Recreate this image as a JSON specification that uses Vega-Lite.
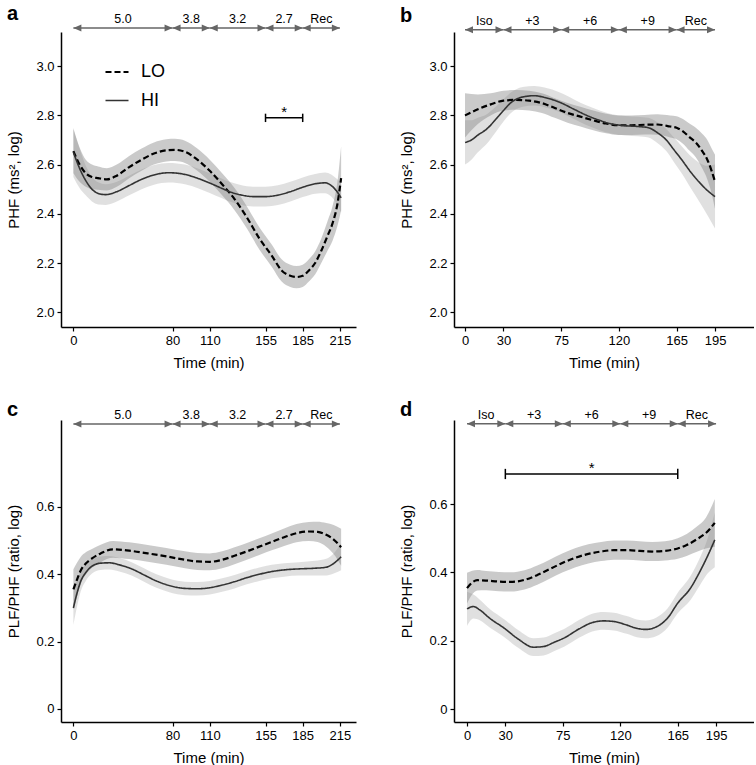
{
  "$schema": "https://vega.github.io/schema/vega-lite/v6.json",
  "padding": {"left": 6, "top": 4, "right": 0, "bottom": 0},
  "columns": 2,
  "spacing": {"row": 93, "column": 98},
  "bounds": "flush",
  "resolve": {"scale": {"x": "independent", "y": "independent", "color": "independent", "strokeDash": "independent", "strokeWidth": "independent"}},
  "datasets": {
    "segA": [
      {"start": 0, "end": 80, "mid": 40, "label": "5.0"},
      {"start": 80, "end": 110, "mid": 95, "label": "3.8"},
      {"start": 110, "end": 155, "mid": 132.5, "label": "3.2"},
      {"start": 155, "end": 185, "mid": 170, "label": "2.7"},
      {"start": 185, "end": 215, "mid": 200, "label": "Rec"}
    ],
    "segB": [
      {"start": 0, "end": 30, "mid": 15, "label": "Iso"},
      {"start": 30, "end": 75, "mid": 52.5, "label": "+3"},
      {"start": 75, "end": 120, "mid": 97.5, "label": "+6"},
      {"start": 120, "end": 165, "mid": 142.5, "label": "+9"},
      {"start": 165, "end": 195, "mid": 180, "label": "Rec"}
    ],
    "sigA": [{"start": 155, "end": 185, "mid": 170, "label": "*"}],
    "sigD": [{"start": 30, "end": 165, "mid": 97.5, "label": "*"}],
    "curvesA": [
      {"g":"LO","t":0,"v":2.655,"lo":2.565,"hi":2.745},
      {"g":"LO","t":5,"v":2.6,"lo":2.53,"hi":2.67},
      {"g":"LO","t":10,"v":2.565,"lo":2.51,"hi":2.62},
      {"g":"LO","t":15,"v":2.55,"lo":2.5,"hi":2.6},
      {"g":"LO","t":20,"v":2.545,"lo":2.498,"hi":2.592},
      {"g":"LO","t":27,"v":2.54,"lo":2.495,"hi":2.585},
      {"g":"LO","t":35,"v":2.555,"lo":2.51,"hi":2.6},
      {"g":"LO","t":45,"v":2.59,"lo":2.545,"hi":2.635},
      {"g":"LO","t":55,"v":2.62,"lo":2.575,"hi":2.665},
      {"g":"LO","t":65,"v":2.645,"lo":2.6,"hi":2.69},
      {"g":"LO","t":75,"v":2.658,"lo":2.613,"hi":2.703},
      {"g":"LO","t":82,"v":2.66,"lo":2.615,"hi":2.705},
      {"g":"LO","t":90,"v":2.652,"lo":2.607,"hi":2.697},
      {"g":"LO","t":100,"v":2.62,"lo":2.575,"hi":2.665},
      {"g":"LO","t":110,"v":2.575,"lo":2.53,"hi":2.62},
      {"g":"LO","t":120,"v":2.52,"lo":2.475,"hi":2.565},
      {"g":"LO","t":130,"v":2.46,"lo":2.415,"hi":2.505},
      {"g":"LO","t":140,"v":2.385,"lo":2.34,"hi":2.43},
      {"g":"LO","t":150,"v":2.3,"lo":2.255,"hi":2.345},
      {"g":"LO","t":160,"v":2.23,"lo":2.185,"hi":2.275},
      {"g":"LO","t":168,"v":2.17,"lo":2.125,"hi":2.215},
      {"g":"LO","t":175,"v":2.148,"lo":2.103,"hi":2.193},
      {"g":"LO","t":180,"v":2.143,"lo":2.098,"hi":2.188},
      {"g":"LO","t":185,"v":2.148,"lo":2.103,"hi":2.193},
      {"g":"LO","t":190,"v":2.17,"lo":2.125,"hi":2.215},
      {"g":"LO","t":195,"v":2.2,"lo":2.153,"hi":2.247},
      {"g":"LO","t":200,"v":2.25,"lo":2.2,"hi":2.3},
      {"g":"LO","t":205,"v":2.31,"lo":2.25,"hi":2.37},
      {"g":"LO","t":209,"v":2.36,"lo":2.29,"hi":2.43},
      {"g":"LO","t":213,"v":2.44,"lo":2.35,"hi":2.53},
      {"g":"LO","t":216,"v":2.545,"lo":2.415,"hi":2.675},
      {"g":"HI","t":0,"v":2.65,"lo":2.55,"hi":2.75},
      {"g":"HI","t":5,"v":2.585,"lo":2.505,"hi":2.665},
      {"g":"HI","t":10,"v":2.535,"lo":2.475,"hi":2.595},
      {"g":"HI","t":15,"v":2.5,"lo":2.45,"hi":2.55},
      {"g":"HI","t":20,"v":2.483,"lo":2.438,"hi":2.528},
      {"g":"HI","t":26,"v":2.478,"lo":2.436,"hi":2.52},
      {"g":"HI","t":35,"v":2.49,"lo":2.45,"hi":2.53},
      {"g":"HI","t":45,"v":2.515,"lo":2.475,"hi":2.555},
      {"g":"HI","t":55,"v":2.54,"lo":2.5,"hi":2.58},
      {"g":"HI","t":65,"v":2.558,"lo":2.518,"hi":2.598},
      {"g":"HI","t":77,"v":2.567,"lo":2.527,"hi":2.607},
      {"g":"HI","t":90,"v":2.56,"lo":2.52,"hi":2.6},
      {"g":"HI","t":101,"v":2.543,"lo":2.503,"hi":2.583},
      {"g":"HI","t":110,"v":2.525,"lo":2.485,"hi":2.565},
      {"g":"HI","t":120,"v":2.503,"lo":2.463,"hi":2.543},
      {"g":"HI","t":126,"v":2.49,"lo":2.45,"hi":2.53},
      {"g":"HI","t":135,"v":2.477,"lo":2.437,"hi":2.517},
      {"g":"HI","t":145,"v":2.47,"lo":2.43,"hi":2.51},
      {"g":"HI","t":155,"v":2.47,"lo":2.43,"hi":2.51},
      {"g":"HI","t":165,"v":2.476,"lo":2.436,"hi":2.516},
      {"g":"HI","t":175,"v":2.49,"lo":2.45,"hi":2.53},
      {"g":"HI","t":185,"v":2.508,"lo":2.468,"hi":2.548},
      {"g":"HI","t":195,"v":2.522,"lo":2.482,"hi":2.562},
      {"g":"HI","t":203,"v":2.526,"lo":2.484,"hi":2.568},
      {"g":"HI","t":208,"v":2.515,"lo":2.47,"hi":2.56},
      {"g":"HI","t":212,"v":2.495,"lo":2.445,"hi":2.545},
      {"g":"HI","t":216,"v":2.465,"lo":2.405,"hi":2.525}
    ],
    "curvesB": [
      {"g":"LO","t":0,"v":2.8,"lo":2.71,"hi":2.89},
      {"g":"LO","t":10,"v":2.825,"lo":2.765,"hi":2.885},
      {"g":"LO","t":20,"v":2.845,"lo":2.8,"hi":2.89},
      {"g":"LO","t":30,"v":2.86,"lo":2.82,"hi":2.9},
      {"g":"LO","t":40,"v":2.863,"lo":2.823,"hi":2.903},
      {"g":"LO","t":50,"v":2.86,"lo":2.82,"hi":2.9},
      {"g":"LO","t":60,"v":2.85,"lo":2.81,"hi":2.89},
      {"g":"LO","t":70,"v":2.83,"lo":2.79,"hi":2.87},
      {"g":"LO","t":80,"v":2.81,"lo":2.77,"hi":2.85},
      {"g":"LO","t":90,"v":2.795,"lo":2.755,"hi":2.835},
      {"g":"LO","t":100,"v":2.78,"lo":2.74,"hi":2.82},
      {"g":"LO","t":110,"v":2.767,"lo":2.727,"hi":2.807},
      {"g":"LO","t":120,"v":2.76,"lo":2.72,"hi":2.8},
      {"g":"LO","t":130,"v":2.76,"lo":2.72,"hi":2.8},
      {"g":"LO","t":140,"v":2.762,"lo":2.722,"hi":2.802},
      {"g":"LO","t":150,"v":2.763,"lo":2.721,"hi":2.805},
      {"g":"LO","t":160,"v":2.755,"lo":2.71,"hi":2.8},
      {"g":"LO","t":165,"v":2.75,"lo":2.703,"hi":2.797},
      {"g":"LO","t":170,"v":2.735,"lo":2.685,"hi":2.785},
      {"g":"LO","t":175,"v":2.712,"lo":2.657,"hi":2.767},
      {"g":"LO","t":180,"v":2.69,"lo":2.63,"hi":2.75},
      {"g":"LO","t":185,"v":2.655,"lo":2.585,"hi":2.725},
      {"g":"LO","t":189,"v":2.62,"lo":2.54,"hi":2.7},
      {"g":"LO","t":192,"v":2.58,"lo":2.49,"hi":2.67},
      {"g":"LO","t":195,"v":2.53,"lo":2.42,"hi":2.64},
      {"g":"HI","t":0,"v":2.69,"lo":2.6,"hi":2.78},
      {"g":"HI","t":5,"v":2.7,"lo":2.62,"hi":2.78},
      {"g":"HI","t":10,"v":2.72,"lo":2.65,"hi":2.79},
      {"g":"HI","t":17,"v":2.745,"lo":2.685,"hi":2.805},
      {"g":"HI","t":25,"v":2.79,"lo":2.74,"hi":2.84},
      {"g":"HI","t":30,"v":2.82,"lo":2.775,"hi":2.865},
      {"g":"HI","t":35,"v":2.848,"lo":2.806,"hi":2.89},
      {"g":"HI","t":45,"v":2.875,"lo":2.835,"hi":2.915},
      {"g":"HI","t":54,"v":2.88,"lo":2.84,"hi":2.92},
      {"g":"HI","t":62,"v":2.873,"lo":2.833,"hi":2.913},
      {"g":"HI","t":74,"v":2.853,"lo":2.813,"hi":2.893},
      {"g":"HI","t":85,"v":2.825,"lo":2.785,"hi":2.865},
      {"g":"HI","t":95,"v":2.8,"lo":2.76,"hi":2.84},
      {"g":"HI","t":105,"v":2.78,"lo":2.74,"hi":2.82},
      {"g":"HI","t":113,"v":2.767,"lo":2.727,"hi":2.807},
      {"g":"HI","t":125,"v":2.758,"lo":2.718,"hi":2.798},
      {"g":"HI","t":135,"v":2.755,"lo":2.715,"hi":2.795},
      {"g":"HI","t":143,"v":2.75,"lo":2.71,"hi":2.79},
      {"g":"HI","t":150,"v":2.73,"lo":2.688,"hi":2.772},
      {"g":"HI","t":157,"v":2.7,"lo":2.655,"hi":2.745},
      {"g":"HI","t":163,"v":2.66,"lo":2.61,"hi":2.71},
      {"g":"HI","t":169,"v":2.62,"lo":2.565,"hi":2.675},
      {"g":"HI","t":176,"v":2.57,"lo":2.505,"hi":2.635},
      {"g":"HI","t":183,"v":2.527,"lo":2.447,"hi":2.607},
      {"g":"HI","t":189,"v":2.495,"lo":2.395,"hi":2.595},
      {"g":"HI","t":195,"v":2.47,"lo":2.34,"hi":2.6}
    ],
    "curvesC": [
      {"g":"LO","t":0,"v":0.355,"lo":0.295,"hi":0.415},
      {"g":"LO","t":3,"v":0.385,"lo":0.335,"hi":0.435},
      {"g":"LO","t":6,"v":0.412,"lo":0.372,"hi":0.452},
      {"g":"LO","t":10,"v":0.432,"lo":0.399,"hi":0.465},
      {"g":"LO","t":15,"v":0.447,"lo":0.419,"hi":0.475},
      {"g":"LO","t":22,"v":0.462,"lo":0.436,"hi":0.488},
      {"g":"LO","t":32,"v":0.474,"lo":0.449,"hi":0.499},
      {"g":"LO","t":45,"v":0.47,"lo":0.445,"hi":0.495},
      {"g":"LO","t":60,"v":0.462,"lo":0.437,"hi":0.487},
      {"g":"LO","t":75,"v":0.453,"lo":0.428,"hi":0.478},
      {"g":"LO","t":90,"v":0.443,"lo":0.418,"hi":0.468},
      {"g":"LO","t":100,"v":0.438,"lo":0.413,"hi":0.463},
      {"g":"LO","t":110,"v":0.437,"lo":0.412,"hi":0.462},
      {"g":"LO","t":120,"v":0.443,"lo":0.418,"hi":0.468},
      {"g":"LO","t":130,"v":0.455,"lo":0.43,"hi":0.48},
      {"g":"LO","t":140,"v":0.468,"lo":0.443,"hi":0.493},
      {"g":"LO","t":150,"v":0.482,"lo":0.457,"hi":0.507},
      {"g":"LO","t":160,"v":0.496,"lo":0.471,"hi":0.521},
      {"g":"LO","t":170,"v":0.51,"lo":0.484,"hi":0.536},
      {"g":"LO","t":180,"v":0.522,"lo":0.495,"hi":0.549},
      {"g":"LO","t":190,"v":0.527,"lo":0.499,"hi":0.555},
      {"g":"LO","t":197,"v":0.526,"lo":0.496,"hi":0.556},
      {"g":"LO","t":204,"v":0.517,"lo":0.482,"hi":0.552},
      {"g":"LO","t":210,"v":0.503,"lo":0.46,"hi":0.546},
      {"g":"LO","t":216,"v":0.48,"lo":0.425,"hi":0.535},
      {"g":"HI","t":0,"v":0.3,"lo":0.25,"hi":0.35},
      {"g":"HI","t":3,"v":0.345,"lo":0.305,"hi":0.385},
      {"g":"HI","t":6,"v":0.38,"lo":0.35,"hi":0.41},
      {"g":"HI","t":10,"v":0.405,"lo":0.38,"hi":0.43},
      {"g":"HI","t":15,"v":0.424,"lo":0.402,"hi":0.446},
      {"g":"HI","t":22,"v":0.433,"lo":0.413,"hi":0.453},
      {"g":"HI","t":29,"v":0.434,"lo":0.414,"hi":0.454},
      {"g":"HI","t":37,"v":0.428,"lo":0.408,"hi":0.448},
      {"g":"HI","t":47,"v":0.416,"lo":0.396,"hi":0.436},
      {"g":"HI","t":57,"v":0.398,"lo":0.378,"hi":0.418},
      {"g":"HI","t":67,"v":0.38,"lo":0.36,"hi":0.4},
      {"g":"HI","t":78,"v":0.366,"lo":0.346,"hi":0.386},
      {"g":"HI","t":90,"v":0.358,"lo":0.338,"hi":0.378},
      {"g":"HI","t":100,"v":0.357,"lo":0.337,"hi":0.377},
      {"g":"HI","t":110,"v":0.36,"lo":0.34,"hi":0.38},
      {"g":"HI","t":120,"v":0.368,"lo":0.348,"hi":0.388},
      {"g":"HI","t":130,"v":0.378,"lo":0.358,"hi":0.398},
      {"g":"HI","t":140,"v":0.39,"lo":0.37,"hi":0.41},
      {"g":"HI","t":150,"v":0.4,"lo":0.38,"hi":0.42},
      {"g":"HI","t":160,"v":0.408,"lo":0.388,"hi":0.428},
      {"g":"HI","t":170,"v":0.413,"lo":0.393,"hi":0.433},
      {"g":"HI","t":182,"v":0.416,"lo":0.396,"hi":0.436},
      {"g":"HI","t":195,"v":0.418,"lo":0.396,"hi":0.44},
      {"g":"HI","t":204,"v":0.421,"lo":0.396,"hi":0.446},
      {"g":"HI","t":210,"v":0.432,"lo":0.402,"hi":0.462},
      {"g":"HI","t":216,"v":0.452,"lo":0.412,"hi":0.492}
    ],
    "curvesD": [
      {"g":"LO","t":0,"v":0.354,"lo":0.309,"hi":0.399},
      {"g":"LO","t":4,"v":0.37,"lo":0.335,"hi":0.405},
      {"g":"LO","t":8,"v":0.377,"lo":0.347,"hi":0.407},
      {"g":"LO","t":15,"v":0.376,"lo":0.348,"hi":0.404},
      {"g":"LO","t":25,"v":0.373,"lo":0.345,"hi":0.401},
      {"g":"LO","t":34,"v":0.372,"lo":0.344,"hi":0.4},
      {"g":"LO","t":45,"v":0.378,"lo":0.35,"hi":0.406},
      {"g":"LO","t":55,"v":0.392,"lo":0.364,"hi":0.42},
      {"g":"LO","t":65,"v":0.41,"lo":0.382,"hi":0.438},
      {"g":"LO","t":75,"v":0.428,"lo":0.4,"hi":0.456},
      {"g":"LO","t":85,"v":0.443,"lo":0.415,"hi":0.471},
      {"g":"LO","t":95,"v":0.454,"lo":0.426,"hi":0.482},
      {"g":"LO","t":105,"v":0.461,"lo":0.433,"hi":0.489},
      {"g":"LO","t":115,"v":0.465,"lo":0.437,"hi":0.493},
      {"g":"LO","t":125,"v":0.465,"lo":0.437,"hi":0.493},
      {"g":"LO","t":135,"v":0.463,"lo":0.435,"hi":0.491},
      {"g":"LO","t":145,"v":0.461,"lo":0.433,"hi":0.489},
      {"g":"LO","t":155,"v":0.463,"lo":0.435,"hi":0.491},
      {"g":"LO","t":165,"v":0.47,"lo":0.44,"hi":0.5},
      {"g":"LO","t":172,"v":0.48,"lo":0.448,"hi":0.512},
      {"g":"LO","t":180,"v":0.497,"lo":0.46,"hi":0.534},
      {"g":"LO","t":187,"v":0.515,"lo":0.47,"hi":0.56},
      {"g":"LO","t":194,"v":0.545,"lo":0.475,"hi":0.615},
      {"g":"HI","t":0,"v":0.293,"lo":0.243,"hi":0.343},
      {"g":"HI","t":5,"v":0.3,"lo":0.265,"hi":0.335},
      {"g":"HI","t":10,"v":0.29,"lo":0.26,"hi":0.32},
      {"g":"HI","t":18,"v":0.265,"lo":0.238,"hi":0.292},
      {"g":"HI","t":29,"v":0.237,"lo":0.211,"hi":0.263},
      {"g":"HI","t":40,"v":0.205,"lo":0.179,"hi":0.231},
      {"g":"HI","t":52,"v":0.181,"lo":0.155,"hi":0.207},
      {"g":"HI","t":60,"v":0.183,"lo":0.157,"hi":0.209},
      {"g":"HI","t":68,"v":0.195,"lo":0.169,"hi":0.221},
      {"g":"HI","t":76,"v":0.208,"lo":0.182,"hi":0.234},
      {"g":"HI","t":88,"v":0.235,"lo":0.209,"hi":0.261},
      {"g":"HI","t":98,"v":0.253,"lo":0.227,"hi":0.279},
      {"g":"HI","t":107,"v":0.258,"lo":0.232,"hi":0.284},
      {"g":"HI","t":115,"v":0.256,"lo":0.23,"hi":0.282},
      {"g":"HI","t":125,"v":0.246,"lo":0.22,"hi":0.272},
      {"g":"HI","t":133,"v":0.236,"lo":0.21,"hi":0.262},
      {"g":"HI","t":140,"v":0.233,"lo":0.207,"hi":0.259},
      {"g":"HI","t":148,"v":0.24,"lo":0.213,"hi":0.267},
      {"g":"HI","t":157,"v":0.266,"lo":0.238,"hi":0.294},
      {"g":"HI","t":165,"v":0.31,"lo":0.28,"hi":0.34},
      {"g":"HI","t":175,"v":0.354,"lo":0.319,"hi":0.389},
      {"g":"HI","t":182,"v":0.4,"lo":0.36,"hi":0.44},
      {"g":"HI","t":188,"v":0.445,"lo":0.395,"hi":0.495},
      {"g":"HI","t":194,"v":0.495,"lo":0.415,"hi":0.575}
    ]
  },
  "concat": [
    {
      "width": 295, "height": 295,
      "title": {"text": "a"},
      "layer": [
        {"data": {"name": "curvesA"}, "transform": [{"filter": "datum.g === 'HI'"}],
         "mark": {"type": "area", "interpolate": "monotone", "color": "#a0a0a0", "opacity": 0.33},
         "encoding": {
           "x": {"field": "t", "type": "quantitative", "scale": {"domain": [-10, 228], "nice": false}, "axis": {"values": [0, 80, 110, 155, 185, 215], "title": "Time (min)"}},
           "y": {"field": "lo", "type": "quantitative", "scale": {"domain": [1.94, 3.139], "nice": false, "zero": false}, "axis": {"values": [2.0, 2.2, 2.4, 2.6, 2.8, 3.0], "format": ".1f", "title": "PHF (ms², log)"}},
           "y2": {"field": "hi"}}},
        {"data": {"name": "curvesA"}, "transform": [{"filter": "datum.g === 'LO'"}],
         "mark": {"type": "area", "interpolate": "monotone", "color": "#808080", "opacity": 0.42},
         "encoding": {"x": {"field": "t", "type": "quantitative"}, "y": {"field": "lo", "type": "quantitative"}, "y2": {"field": "hi"}}},
        {"data": {"name": "curvesA"},
         "mark": {"type": "line", "interpolate": "monotone"},
         "encoding": {
           "x": {"field": "t", "type": "quantitative"},
           "y": {"field": "v", "type": "quantitative"},
           "color": {"field": "g", "type": "nominal", "scale": {"domain": ["LO", "HI"], "range": ["#000000", "#333333"]}},
           "strokeWidth": {"field": "g", "type": "ordinal", "scale": {"domain": ["LO", "HI"], "range": [2.2, 1.6]}},
           "strokeDash": {"field": "g", "type": "nominal", "scale": {"domain": ["LO", "HI"], "range": [[6, 3], [1, 0]]},
             "legend": {"title": null, "orient": "none", "legendX": 43, "legendY": 27, "symbolType": "stroke", "symbolSize": 529, "labelFontSize": 18, "labelFont": "Liberation Sans", "labelColor": "#000", "labelOffset": 11, "rowPadding": 7, "padding": 0, "offset": 0,
               "encode": {"symbols": {"update": {"strokeDash": {"signal": "datum.value === 'LO' ? [3.4, 1.3] : [1, 0]"}, "stroke": {"value": "#000"}}}}}}}},
        {"data": {"name": "segA"}, "mark": {"type": "rule", "color": "#666666", "strokeWidth": 1.5},
         "encoding": {"x": {"field": "start", "type": "quantitative"}, "x2": {"field": "end"}, "y": {"datum": 3.155}}},
        {"data": {"name": "segA"}, "mark": {"type": "point", "shape": "M0,0L2,-0.875L2,0.875Z", "size": 64, "filled": true, "color": "#666666", "opacity": 1},
         "encoding": {"x": {"field": "start", "type": "quantitative"}, "y": {"datum": 3.155}}},
        {"data": {"name": "segA"}, "mark": {"type": "point", "shape": "M0,0L-2,-0.875L-2,0.875Z", "size": 64, "filled": true, "color": "#666666", "opacity": 1},
         "encoding": {"x": {"field": "end", "type": "quantitative"}, "y": {"datum": 3.155}}},
        {"data": {"name": "segA"}, "mark": {"type": "text", "fontSize": 12.5, "dy": -5, "baseline": "alphabetic", "color": "#000"},
         "encoding": {"x": {"field": "mid", "type": "quantitative"}, "y": {"datum": 3.155}, "text": {"field": "label"}}},
        {"data": {"name": "sigA"}, "mark": {"type": "rule", "color": "#000", "strokeWidth": 1.5},
         "encoding": {"x": {"field": "start", "type": "quantitative"}, "x2": {"field": "end"}, "y": {"datum": 2.79}}},
        {"data": {"name": "sigA"}, "mark": {"type": "rule", "color": "#000", "strokeWidth": 1.5},
         "encoding": {"x": {"field": "start", "type": "quantitative"}, "y": {"datum": 2.773}, "y2": {"datum": 2.807}}},
        {"data": {"name": "sigA"}, "mark": {"type": "rule", "color": "#000", "strokeWidth": 1.5},
         "encoding": {"x": {"field": "end", "type": "quantitative"}, "y": {"datum": 2.773}, "y2": {"datum": 2.807}}},
        {"data": {"name": "sigA"}, "mark": {"type": "text", "fontSize": 15, "baseline": "alphabetic", "dy": -1, "color": "#000"},
         "encoding": {"x": {"field": "mid", "type": "quantitative"}, "y": {"datum": 2.79}, "text": {"field": "label"}}}
      ]
    },
    {
      "width": 300, "height": 295,
      "title": {"text": "b"},
      "layer": [
        {"data": {"name": "curvesB"}, "transform": [{"filter": "datum.g === 'HI'"}],
         "mark": {"type": "area", "interpolate": "monotone", "color": "#a0a0a0", "opacity": 0.33},
         "encoding": {
           "x": {"field": "t", "type": "quantitative", "scale": {"domain": [-8.6, 225.4], "nice": false}, "axis": {"values": [0, 30, 75, 120, 165, 195], "title": "Time (min)"}},
           "y": {"field": "lo", "type": "quantitative", "scale": {"domain": [1.94, 3.139], "nice": false, "zero": false}, "axis": {"values": [2.0, 2.2, 2.4, 2.6, 2.8, 3.0], "format": ".1f", "title": "PHF (ms², log)"}},
           "y2": {"field": "hi"}}},
        {"data": {"name": "curvesB"}, "transform": [{"filter": "datum.g === 'LO'"}],
         "mark": {"type": "area", "interpolate": "monotone", "color": "#808080", "opacity": 0.42},
         "encoding": {"x": {"field": "t", "type": "quantitative"}, "y": {"field": "lo", "type": "quantitative"}, "y2": {"field": "hi"}}},
        {"data": {"name": "curvesB"},
         "mark": {"type": "line", "interpolate": "monotone"},
         "encoding": {
           "x": {"field": "t", "type": "quantitative"},
           "y": {"field": "v", "type": "quantitative"},
           "color": {"field": "g", "type": "nominal", "scale": {"domain": ["LO", "HI"], "range": ["#000000", "#333333"]}, "legend": null},
           "strokeWidth": {"field": "g", "type": "ordinal", "scale": {"domain": ["LO", "HI"], "range": [2.2, 1.6]}, "legend": null},
           "strokeDash": {"field": "g", "type": "nominal", "scale": {"domain": ["LO", "HI"], "range": [[6, 3], [1, 0]]}, "legend": null}}},
        {"data": {"name": "segB"}, "mark": {"type": "rule", "color": "#666666", "strokeWidth": 1.5},
         "encoding": {"x": {"field": "start", "type": "quantitative"}, "x2": {"field": "end"}, "y": {"datum": 3.148}}},
        {"data": {"name": "segB"}, "mark": {"type": "point", "shape": "M0,0L2,-0.875L2,0.875Z", "size": 64, "filled": true, "color": "#666666", "opacity": 1},
         "encoding": {"x": {"field": "start", "type": "quantitative"}, "y": {"datum": 3.148}}},
        {"data": {"name": "segB"}, "mark": {"type": "point", "shape": "M0,0L-2,-0.875L-2,0.875Z", "size": 64, "filled": true, "color": "#666666", "opacity": 1},
         "encoding": {"x": {"field": "end", "type": "quantitative"}, "y": {"datum": 3.148}}},
        {"data": {"name": "segB"}, "mark": {"type": "text", "fontSize": 12.5, "dy": -5, "baseline": "alphabetic", "color": "#000"},
         "encoding": {"x": {"field": "mid", "type": "quantitative"}, "y": {"datum": 3.148}, "text": {"field": "label"}}}
      ]
    },
    {
      "width": 295, "height": 302,
      "title": {"text": "c"},
      "layer": [
        {"data": {"name": "curvesC"}, "transform": [{"filter": "datum.g === 'HI'"}],
         "mark": {"type": "area", "interpolate": "monotone", "color": "#a0a0a0", "opacity": 0.33},
         "encoding": {
           "x": {"field": "t", "type": "quantitative", "scale": {"domain": [-10, 228], "nice": false}, "axis": {"values": [0, 80, 110, 155, 185, 215], "title": "Time (min)"}},
           "y": {"field": "lo", "type": "quantitative", "scale": {"domain": [-0.0386, 0.858], "nice": false, "zero": false}, "axis": {"values": [0, 0.2, 0.4, 0.6], "format": "~g", "title": "PLF/PHF (ratio, log)"}},
           "y2": {"field": "hi"}}},
        {"data": {"name": "curvesC"}, "transform": [{"filter": "datum.g === 'LO'"}],
         "mark": {"type": "area", "interpolate": "monotone", "color": "#808080", "opacity": 0.42},
         "encoding": {"x": {"field": "t", "type": "quantitative"}, "y": {"field": "lo", "type": "quantitative"}, "y2": {"field": "hi"}}},
        {"data": {"name": "curvesC"},
         "mark": {"type": "line", "interpolate": "monotone"},
         "encoding": {
           "x": {"field": "t", "type": "quantitative"},
           "y": {"field": "v", "type": "quantitative"},
           "color": {"field": "g", "type": "nominal", "scale": {"domain": ["LO", "HI"], "range": ["#000000", "#333333"]}, "legend": null},
           "strokeWidth": {"field": "g", "type": "ordinal", "scale": {"domain": ["LO", "HI"], "range": [2.2, 1.6]}, "legend": null},
           "strokeDash": {"field": "g", "type": "nominal", "scale": {"domain": ["LO", "HI"], "range": [[6, 3], [1, 0]]}, "legend": null}}},
        {"data": {"name": "segA"}, "mark": {"type": "rule", "color": "#666666", "strokeWidth": 1.5},
         "encoding": {"x": {"field": "start", "type": "quantitative"}, "x2": {"field": "end"}, "y": {"datum": 0.846}}},
        {"data": {"name": "segA"}, "mark": {"type": "point", "shape": "M0,0L2,-0.875L2,0.875Z", "size": 64, "filled": true, "color": "#666666", "opacity": 1},
         "encoding": {"x": {"field": "start", "type": "quantitative"}, "y": {"datum": 0.846}}},
        {"data": {"name": "segA"}, "mark": {"type": "point", "shape": "M0,0L-2,-0.875L-2,0.875Z", "size": 64, "filled": true, "color": "#666666", "opacity": 1},
         "encoding": {"x": {"field": "end", "type": "quantitative"}, "y": {"datum": 0.846}}},
        {"data": {"name": "segA"}, "mark": {"type": "text", "fontSize": 12.5, "dy": -5, "baseline": "alphabetic", "color": "#000"},
         "encoding": {"x": {"field": "mid", "type": "quantitative"}, "y": {"datum": 0.846}, "text": {"field": "label"}}}
      ]
    },
    {
      "width": 300, "height": 302,
      "title": {"text": "d"},
      "layer": [
        {"data": {"name": "curvesD"}, "transform": [{"filter": "datum.g === 'HI'"}],
         "mark": {"type": "area", "interpolate": "monotone", "color": "#a0a0a0", "opacity": 0.33},
         "encoding": {
           "x": {"field": "t", "type": "quantitative", "scale": {"domain": [-10.2, 224.7], "nice": false}, "axis": {"values": [0, 30, 75, 120, 165, 195], "title": "Time (min)"}},
           "y": {"field": "lo", "type": "quantitative", "scale": {"domain": [-0.038, 0.846], "nice": false, "zero": false}, "axis": {"values": [0, 0.2, 0.4, 0.6], "format": "~g", "title": "PLF/PHF (ratio, log)"}},
           "y2": {"field": "hi"}}},
        {"data": {"name": "curvesD"}, "transform": [{"filter": "datum.g === 'LO'"}],
         "mark": {"type": "area", "interpolate": "monotone", "color": "#808080", "opacity": 0.42},
         "encoding": {"x": {"field": "t", "type": "quantitative"}, "y": {"field": "lo", "type": "quantitative"}, "y2": {"field": "hi"}}},
        {"data": {"name": "curvesD"},
         "mark": {"type": "line", "interpolate": "monotone"},
         "encoding": {
           "x": {"field": "t", "type": "quantitative"},
           "y": {"field": "v", "type": "quantitative"},
           "color": {"field": "g", "type": "nominal", "scale": {"domain": ["LO", "HI"], "range": ["#000000", "#333333"]}, "legend": null},
           "strokeWidth": {"field": "g", "type": "ordinal", "scale": {"domain": ["LO", "HI"], "range": [2.2, 1.6]}, "legend": null},
           "strokeDash": {"field": "g", "type": "nominal", "scale": {"domain": ["LO", "HI"], "range": [[6, 3], [1, 0]]}, "legend": null}}},
        {"data": {"name": "segB"}, "mark": {"type": "rule", "color": "#666666", "strokeWidth": 1.5},
         "encoding": {"x": {"field": "start", "type": "quantitative"}, "x2": {"field": "end"}, "y": {"datum": 0.835}}},
        {"data": {"name": "segB"}, "mark": {"type": "point", "shape": "M0,0L2,-0.875L2,0.875Z", "size": 64, "filled": true, "color": "#666666", "opacity": 1},
         "encoding": {"x": {"field": "start", "type": "quantitative"}, "y": {"datum": 0.835}}},
        {"data": {"name": "segB"}, "mark": {"type": "point", "shape": "M0,0L-2,-0.875L-2,0.875Z", "size": 64, "filled": true, "color": "#666666", "opacity": 1},
         "encoding": {"x": {"field": "end", "type": "quantitative"}, "y": {"datum": 0.835}}},
        {"data": {"name": "segB"}, "mark": {"type": "text", "fontSize": 12.5, "dy": -5, "baseline": "alphabetic", "color": "#000"},
         "encoding": {"x": {"field": "mid", "type": "quantitative"}, "y": {"datum": 0.835}, "text": {"field": "label"}}},
        {"data": {"name": "sigD"}, "mark": {"type": "rule", "color": "#000", "strokeWidth": 1.5},
         "encoding": {"x": {"field": "start", "type": "quantitative"}, "x2": {"field": "end"}, "y": {"datum": 0.688}}},
        {"data": {"name": "sigD"}, "mark": {"type": "rule", "color": "#000", "strokeWidth": 1.5},
         "encoding": {"x": {"field": "start", "type": "quantitative"}, "y": {"datum": 0.673}, "y2": {"datum": 0.703}}},
        {"data": {"name": "sigD"}, "mark": {"type": "rule", "color": "#000", "strokeWidth": 1.5},
         "encoding": {"x": {"field": "end", "type": "quantitative"}, "y": {"datum": 0.673}, "y2": {"datum": 0.703}}},
        {"data": {"name": "sigD"}, "mark": {"type": "text", "fontSize": 15, "baseline": "alphabetic", "dy": -1, "color": "#000"},
         "encoding": {"x": {"field": "mid", "type": "quantitative"}, "y": {"datum": 0.688}, "text": {"field": "label"}}}
      ]
    }
  ],
  "config": {
    "font": "Liberation Sans",
    "view": {"stroke": null},
    "title": {"anchor": "start", "frame": "bounds", "fontSize": 20, "fontWeight": "bold", "font": "Liberation Sans", "color": "#000", "offset": -11},
    "axis": {"grid": false, "domainColor": "#000", "domainWidth": 1.5, "tickColor": "#000", "tickSize": 4, "tickWidth": 1.2, "labelColor": "#000", "labelFontSize": 13, "labelFont": "Liberation Sans", "titleFont": "Liberation Sans", "titleFontSize": 15, "titleFontWeight": "normal", "titleColor": "#000", "labelPadding": 3},
    "axisX": {"titlePadding": 8},
    "axisY": {"titlePadding": 14},
    "text": {"font": "Liberation Sans"}
  }
}
